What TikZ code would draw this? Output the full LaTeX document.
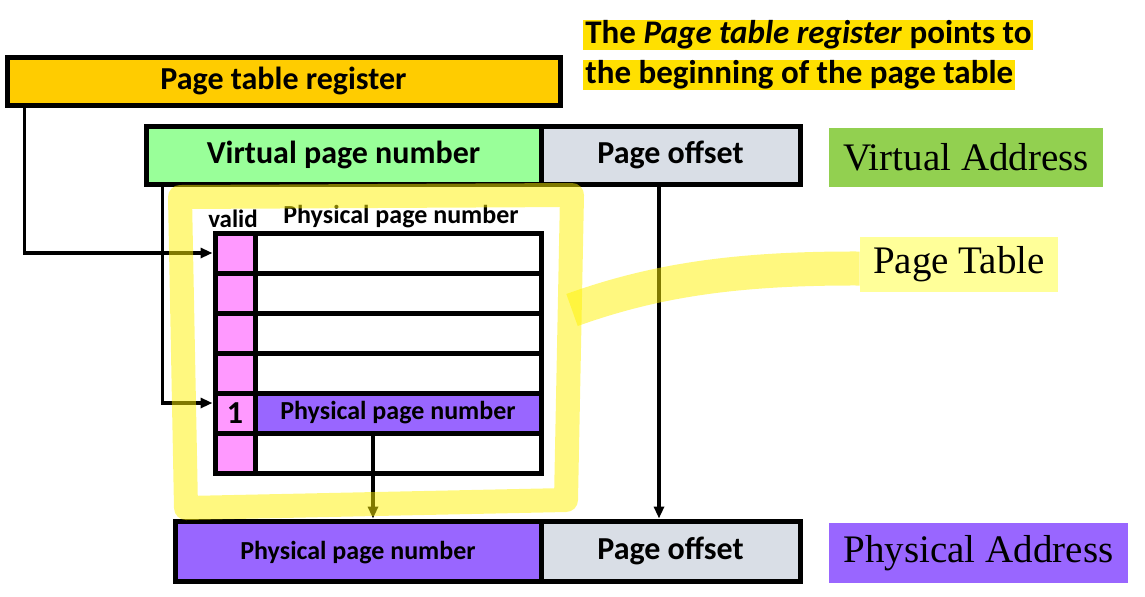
\documentclass[tikz,border=0pt]{standalone}
\usepackage{fontspec}
\setmainfont{Carlito}
\newfontfamily\timesfont{Liberation Serif}
\usetikzlibrary{arrows.meta, positioning}

\definecolor{regorange}{HTML}{FFCC00}
\definecolor{vpngreen}{HTML}{99FF99}
\definecolor{offgray}{HTML}{D9DEE6}
\definecolor{validpink}{HTML}{FF99FF}
\definecolor{ppnpurple}{HTML}{9966FF}
\definecolor{vagreen}{HTML}{92D050}
\definecolor{ptyellow}{HTML}{FFFF99}
\definecolor{notegold}{HTML}{FFE000}

\begin{document}
\begin{tikzpicture}[x=0.5pt, y=-0.5pt,
    box/.style={draw, line width=2.5pt, inner sep=0pt, minimum height=29pt,
      text height=11pt, text depth=2.5pt, font=\fontsize{16}{19}\selectfont\bfseries},
    cell/.style={draw, line width=2.5pt, inner sep=0pt, minimum height=20pt},
    small/.style={font=\fontsize{13}{15}\selectfont\bfseries},
    tag/.style={inner sep=0pt, font=\fontsize{19.5}{23}\selectfont\timesfont},
    note/.style={anchor=west, fill=notegold, inner xsep=1pt, inner ysep=0pt,
      text height=11.5pt, text depth=3.5pt, font=\fontsize{16.5}{20}\selectfont\bfseries},
    conn/.style={line width=1.8pt, -{Triangle[length=6pt, width=5pt]}},
    marker/.style={yellow, opacity=0.5, line width=12pt}]
  \useasboundingbox (0,0) rectangle (1145,596);

  % register and virtual address
  \node[box, fill=regorange, minimum width=276.5pt, minimum height=24pt] (reg) at (283.5,81) {Page table register};
  \node[box, fill=vpngreen, minimum width=197.5pt] (vpn) at (343.5,155) {Virtual page number};
  \node[box, fill=offgray, minimum width=129.5pt] (voff) at (670.5,155) {Page offset};
  \node[tag, fill=vagreen, minimum width=137pt, minimum height=29.5pt] (va) at (966,157.5) {Virtual Address};

  \node[note] (note1) at (583,35) {The \textit{Page table register} points to\ };
  \node[note] (note2) at (583,75) {the beginning of the page table};

  % page table
  \node[small, font=\fontsize{12.5}{15}\selectfont\bfseries] (validhd) at (233,219) {valid};
  \node[small] (ppnhd) at (401,217) {Physical page number};
  \foreach \i in {1,2,3,4,6} {
    \node[cell, fill=validpink, minimum width=20pt] (v\i) at (235,213+40*\i) {};
    \node[cell, minimum width=143pt] (r\i) at (398,213+40*\i) {};
  }
  \node[cell, fill=validpink, minimum width=20pt, font=\fontsize{16}{18}\selectfont\bfseries] (v5) at (235,413) {1};
  \node[cell, fill=ppnpurple, minimum width=143pt, small] (r5) at (398,413) {Physical page number};

  \node[tag, fill=ptyellow, minimum width=99pt, minimum height=27.5pt] (pt) at (959,264.5) {Page Table};

  % physical address
  \node[box, fill=ppnpurple, minimum width=183pt, minimum height=30pt, small] (ppn) at (358,551) {Physical page number};
  \node[box, fill=offgray, minimum width=129.5pt, minimum height=30pt] (poff) at (670.5,551) {Page offset};
  \node[tag, fill=ppnpurple, minimum width=149.5pt, minimum height=30pt] (pa) at (978.5,553) {Physical Address};

  % connectors
  \coordinate (regtap) at ([xshift=10pt]reg.south west);
  \coordinate (vpntap) at ([xshift=9.5pt]vpn.south west);
  \coordinate (offtap) at ([xshift=-5.75pt]voff.south);
  \coordinate (ppntap) at ([xshift=-12.5pt]r5.south);
  \draw[conn] (regtap) |- (v1.west);
  \draw[conn] (vpntap) |- ([yshift=5pt]v5.west);
  \draw[conn] (offtap) -- (offtap |- poff.north);
  \draw[conn] (ppntap) -- (ppntap |- ppn.north);

  % highlighter
  \draw[marker, line join=round] (180,197) -- (572,195) -- (566,500) -- (186,508) -- cycle;
  \draw[marker, line width=17pt] (572,310) .. controls (650,282) and (730,268) .. ([yshift=-2pt]pt.west);
\end{tikzpicture}
\end{document}
